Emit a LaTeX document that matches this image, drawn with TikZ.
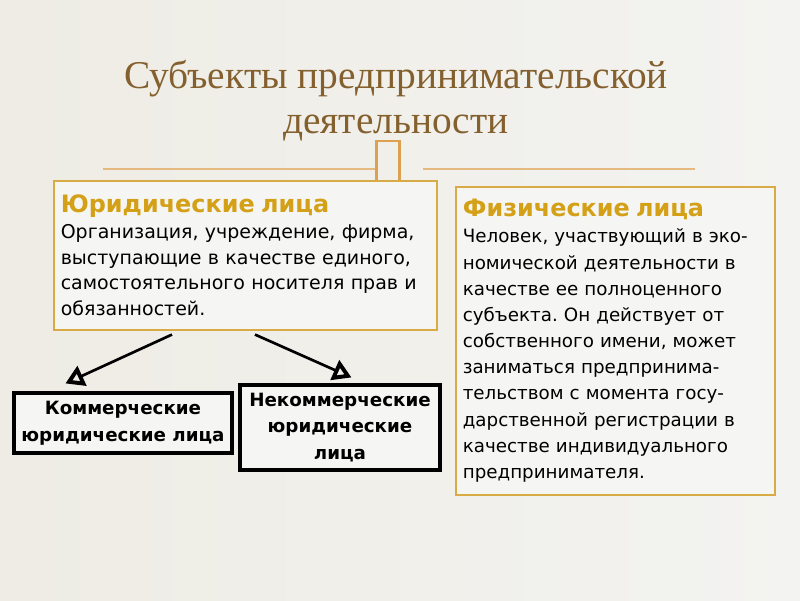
\documentclass[tikz,border=0pt]{standalone}
\usepackage{fontspec}
\setmainfont{Liberation Serif}
\newfontfamily\boxfont{DejaVu Sans}
\usepackage{xcolor}
\usetikzlibrary{positioning, calc, arrows.meta}

\definecolor{bgleft}{HTML}{EEECE4}
\definecolor{bgright}{HTML}{F3F3F1}
\definecolor{titlebrown}{HTML}{84602E}
\definecolor{gold}{HTML}{D4A017}
\definecolor{goldline}{HTML}{D9AB45}
\definecolor{tanline}{HTML}{E6B980}
\definecolor{glyphline}{HTML}{DCA050}
\definecolor{boxfill}{HTML}{F5F5F3}

\newcommand{\headtext}[1]{\textcolor{gold}{\bfseries\fontsize{17}{20}\selectfont #1}}
\frenchspacing

\begin{document}
\begin{tikzpicture}[x=0.025cm, y=-0.025cm,
    infobox/.style={draw=goldline, line width=1.1pt, fill=boxfill, anchor=north west,
        align=left, inner xsep=5pt, inner ysep=4pt, font=\boxfont\fontsize{13.5}{18.3}\selectfont},
    kindbox/.style={draw=black, line width=2.2pt, fill=boxfill, align=center,
        font=\boxfont\bfseries\fontsize{13}{19}\selectfont},
    arr/.style={-{Triangle[open, length=13pt, width=15pt, line width=2.8pt]}, line width=1.9pt}]
        \shade[left color=bgleft, right color=bgright] (0,0) rectangle (800,600);
        \useasboundingbox (0,0) rectangle (800,600);

        % title
        \node[text=titlebrown, align=center, font=\fontsize{28}{32}\selectfont] (title) at (396,101)
            {Субъекты предпринимательской\\деятельности};

        % rule with box
        \node[draw=glyphline, line width=1.8pt, minimum width=23*0.025cm, minimum height=41*0.025cm,
            inner sep=0pt] (glyph) at (388,161.5) {};
        \draw[tanline, line width=0.8pt] (103,169) -- (glyph.west |- 0,169);
        \draw[tanline, line width=0.8pt] (423,169) -- (695,169);

        % boxes
        \node[infobox, minimum width=383*0.025cm, minimum height=149*0.025cm, text width=369*0.025cm] (jur) at (53,180)
            {\headtext{Юридические лица}\\
            Организация, учреждение, фирма,\\
            выступающие в качестве единого,\\
            самостоятельного носителя прав и\\
            обязанностей.};
        \node[infobox, minimum width=319*0.025cm, minimum height=308*0.025cm, text width=305*0.025cm,
            font=\boxfont\fontsize{13}{18.6}\selectfont] (phys) at (455,186)
            {\headtext{Физические лица}\\
            Человек, участвующий в эко-\\
            номической деятельности в\\
            качестве ее полноценного\\
            субъекта. Он действует от\\
            собственного имени, может\\
            заниматься предпринима-\\
            тельством с момента госу-\\
            дарственной регистрации в\\
            качестве индивидуального\\
            предпринимателя.};

        \node[kindbox, minimum width=218*0.025cm, minimum height=60*0.025cm] (com) at (123,423)
            {Коммерческие\\юридические лица};
        \node[kindbox, minimum width=200*0.025cm, minimum height=85*0.025cm] (noncom) at (340,427.5)
            {Некоммерческие\\юридические\\лица};

        \draw[arr] ($(jur.south west)+(119,4)$) -- ($(com.north west)+(53,-8)$);
        \draw[arr] ($(jur.south west)+(202,4)$) -- ($(noncom.north west)+(113,-6)$);
\end{tikzpicture}
\end{document}
